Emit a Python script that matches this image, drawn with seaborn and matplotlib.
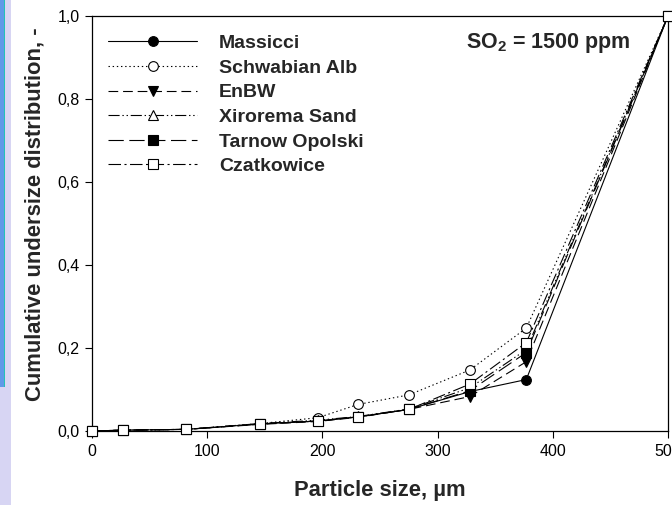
import matplotlib
matplotlib.use("Agg")
import matplotlib.pyplot as plt
import seaborn as sns
import pandas as pd
from matplotlib.patches import Rectangle
from matplotlib.lines import Line2D

# ---------------- data ----------------
particle_size = [0, 27, 82, 146, 196, 231, 275, 328, 377, 500]
massicci      = [0.0, 0.002, 0.004, 0.017, 0.024, 0.034, 0.052, 0.095, 0.124, 1.0]
schwabian_alb = [0.0, 0.002, 0.004, 0.018, 0.032, 0.064, 0.087, 0.147, 0.248, 1.0]
enbw          = [0.0, 0.002, 0.004, 0.016, 0.023, 0.033, 0.052, 0.083, 0.167, 1.0]
xirorema_sand = [0.0, 0.002, 0.004, 0.018, 0.026, 0.035, 0.053, 0.104, 0.196, 1.0]
tarnow_opolski= [0.0, 0.002, 0.004, 0.017, 0.024, 0.034, 0.052, 0.097, 0.189, 1.0]
czatkowice    = [0.0, 0.002, 0.004, 0.017, 0.024, 0.034, 0.052, 0.113, 0.213, 1.0]

series_names = ["Massicci", "Schwabian Alb", "EnBW", "Xirorema Sand",
                "Tarnow Opolski", "Czatkowice"]
series_values = [massicci, schwabian_alb, enbw, xirorema_sand,
                 tarnow_opolski, czatkowice]
x_ticks = [0, 100, 200, 300, 400, 500]
y_ticks = [0.0, 0.2, 0.4, 0.6, 0.8, 1.0]
y_tick_labels = ["0,0", "0,2", "0,4", "0,6", "0,8", "1,0"]
annotation = r"SO$_{\mathbf{2}}$ = 1500 ppm"

# ---------------- style ----------------
sns.set_theme(style="ticks")
plt.rcParams["font.family"] = ["Liberation Sans", "DejaVu Sans"]
plt.rcParams["mathtext.fontset"] = "custom"
plt.rcParams["mathtext.rm"] = "Liberation Sans"
plt.rcParams["mathtext.bf"] = "Liberation Sans:bold"
plt.rcParams["lines.scale_dashes"] = False

styles = {
    "Massicci":       dict(ls="-",                       marker="o", mfc="black"),
    "Schwabian Alb":  dict(ls=(0, (1, 2)),               marker="o", mfc="white"),
    "EnBW":           dict(ls=(0, (7, 3.5)),             marker="v", mfc="black"),
    "Xirorema Sand":  dict(ls=(0, (8, 2, 1, 2, 1, 2)),   marker="^", mfc="white"),
    "Tarnow Opolski": dict(ls=(0, (11, 4)),              marker="s", mfc="black"),
    "Czatkowice":     dict(ls=(0, (9, 2.5, 1.5, 2.5)),   marker="s", mfc="white"),
}

W, H = 672, 505
fig = plt.figure(figsize=(W / 100, H / 100), dpi=100)
fig.patch.set_facecolor("white")

# left slide decoration
fig.patches.append(Rectangle((0, 0), 11 / W, 1, transform=fig.transFigure,
                             facecolor="#d7d5f3", edgecolor="none", zorder=0))
fig.patches.append(Rectangle((0, 1 - 387 / H), 4 / W, 387 / H, transform=fig.transFigure,
                             facecolor="#5f9ae8", edgecolor="none", zorder=1))
fig.patches.append(Rectangle((4 / W, 1 - 387 / H), 1.5 / W, 387 / H, transform=fig.transFigure,
                             facecolor="#22c3b5", edgecolor="none", zorder=1))

AX_L, AX_R, AX_T, AX_B = 92, 668, 16, 431
AW, AH = AX_R - AX_L, AX_B - AX_T
ax = fig.add_axes([AX_L / W, 1 - AX_B / H, AW / W, AH / H])

rows = []
for name, vals in zip(series_names, series_values):
    for xv, yv in zip(particle_size, vals):
        rows.append({"size": xv, "value": yv, "sample": name})
df = pd.DataFrame(rows)

handles = []
for name in series_names:
    st = styles[name]
    sub = df[df["sample"] == name]
    sns.lineplot(data=sub, x="size", y="value", ax=ax, color="black",
                 linestyle=st["ls"], linewidth=0.8, marker=st["marker"],
                 markersize=7, markerfacecolor=st["mfc"],
                 markeredgecolor="black", markeredgewidth=0.8,
                 clip_on=False, legend=False, zorder=3)
    handles.append(Line2D([], [], color="black", linestyle=st["ls"], linewidth=0.8,
                          marker=st["marker"], markersize=7,
                          markerfacecolor=st["mfc"], markeredgecolor="black",
                          markeredgewidth=0.8))

ax.set_xlim(0, 500)
ax.set_ylim(0, 1.0)
ax.set_xticks(x_ticks)
ax.set_yticks(y_ticks)
ax.set_yticklabels(y_tick_labels)
ax.tick_params(axis="both", direction="out", length=5, width=0.8,
               labelsize=11.5, colors="black", pad=4)
for sp in ax.spines.values():
    sp.set_color("black")
    sp.set_linewidth(0.9)
ax.set_facecolor("white")

ax.set_xlabel("Particle size, µm", fontsize=15.8, fontweight="bold")
ax.set_ylabel("Cumulative undersize distribution, -", fontsize=15.8,
              fontweight="bold")
ax.xaxis.set_label_coords(0.5, (AX_B - 480) / AH)
ax.yaxis.set_label_coords((46 - AX_L) / AW, (AX_B - 214) / AH)

leg = ax.legend(handles, series_names, loc="upper left",
                bbox_to_anchor=((108 - AX_L) / AW, 1 - 18.5 / AH), frameon=False,
                prop={"weight": "bold", "size": 14}, handlelength=4.58,
                handletextpad=1.13, labelspacing=0.36, borderpad=0,
                borderaxespad=0)

ax.text((548 - AX_L) / AW, 1 - (43 - AX_T) / AH, annotation, transform=ax.transAxes,
        ha="center", va="center", fontsize=15.5, fontweight="bold")

fig.savefig("out.png", dpi=100)
